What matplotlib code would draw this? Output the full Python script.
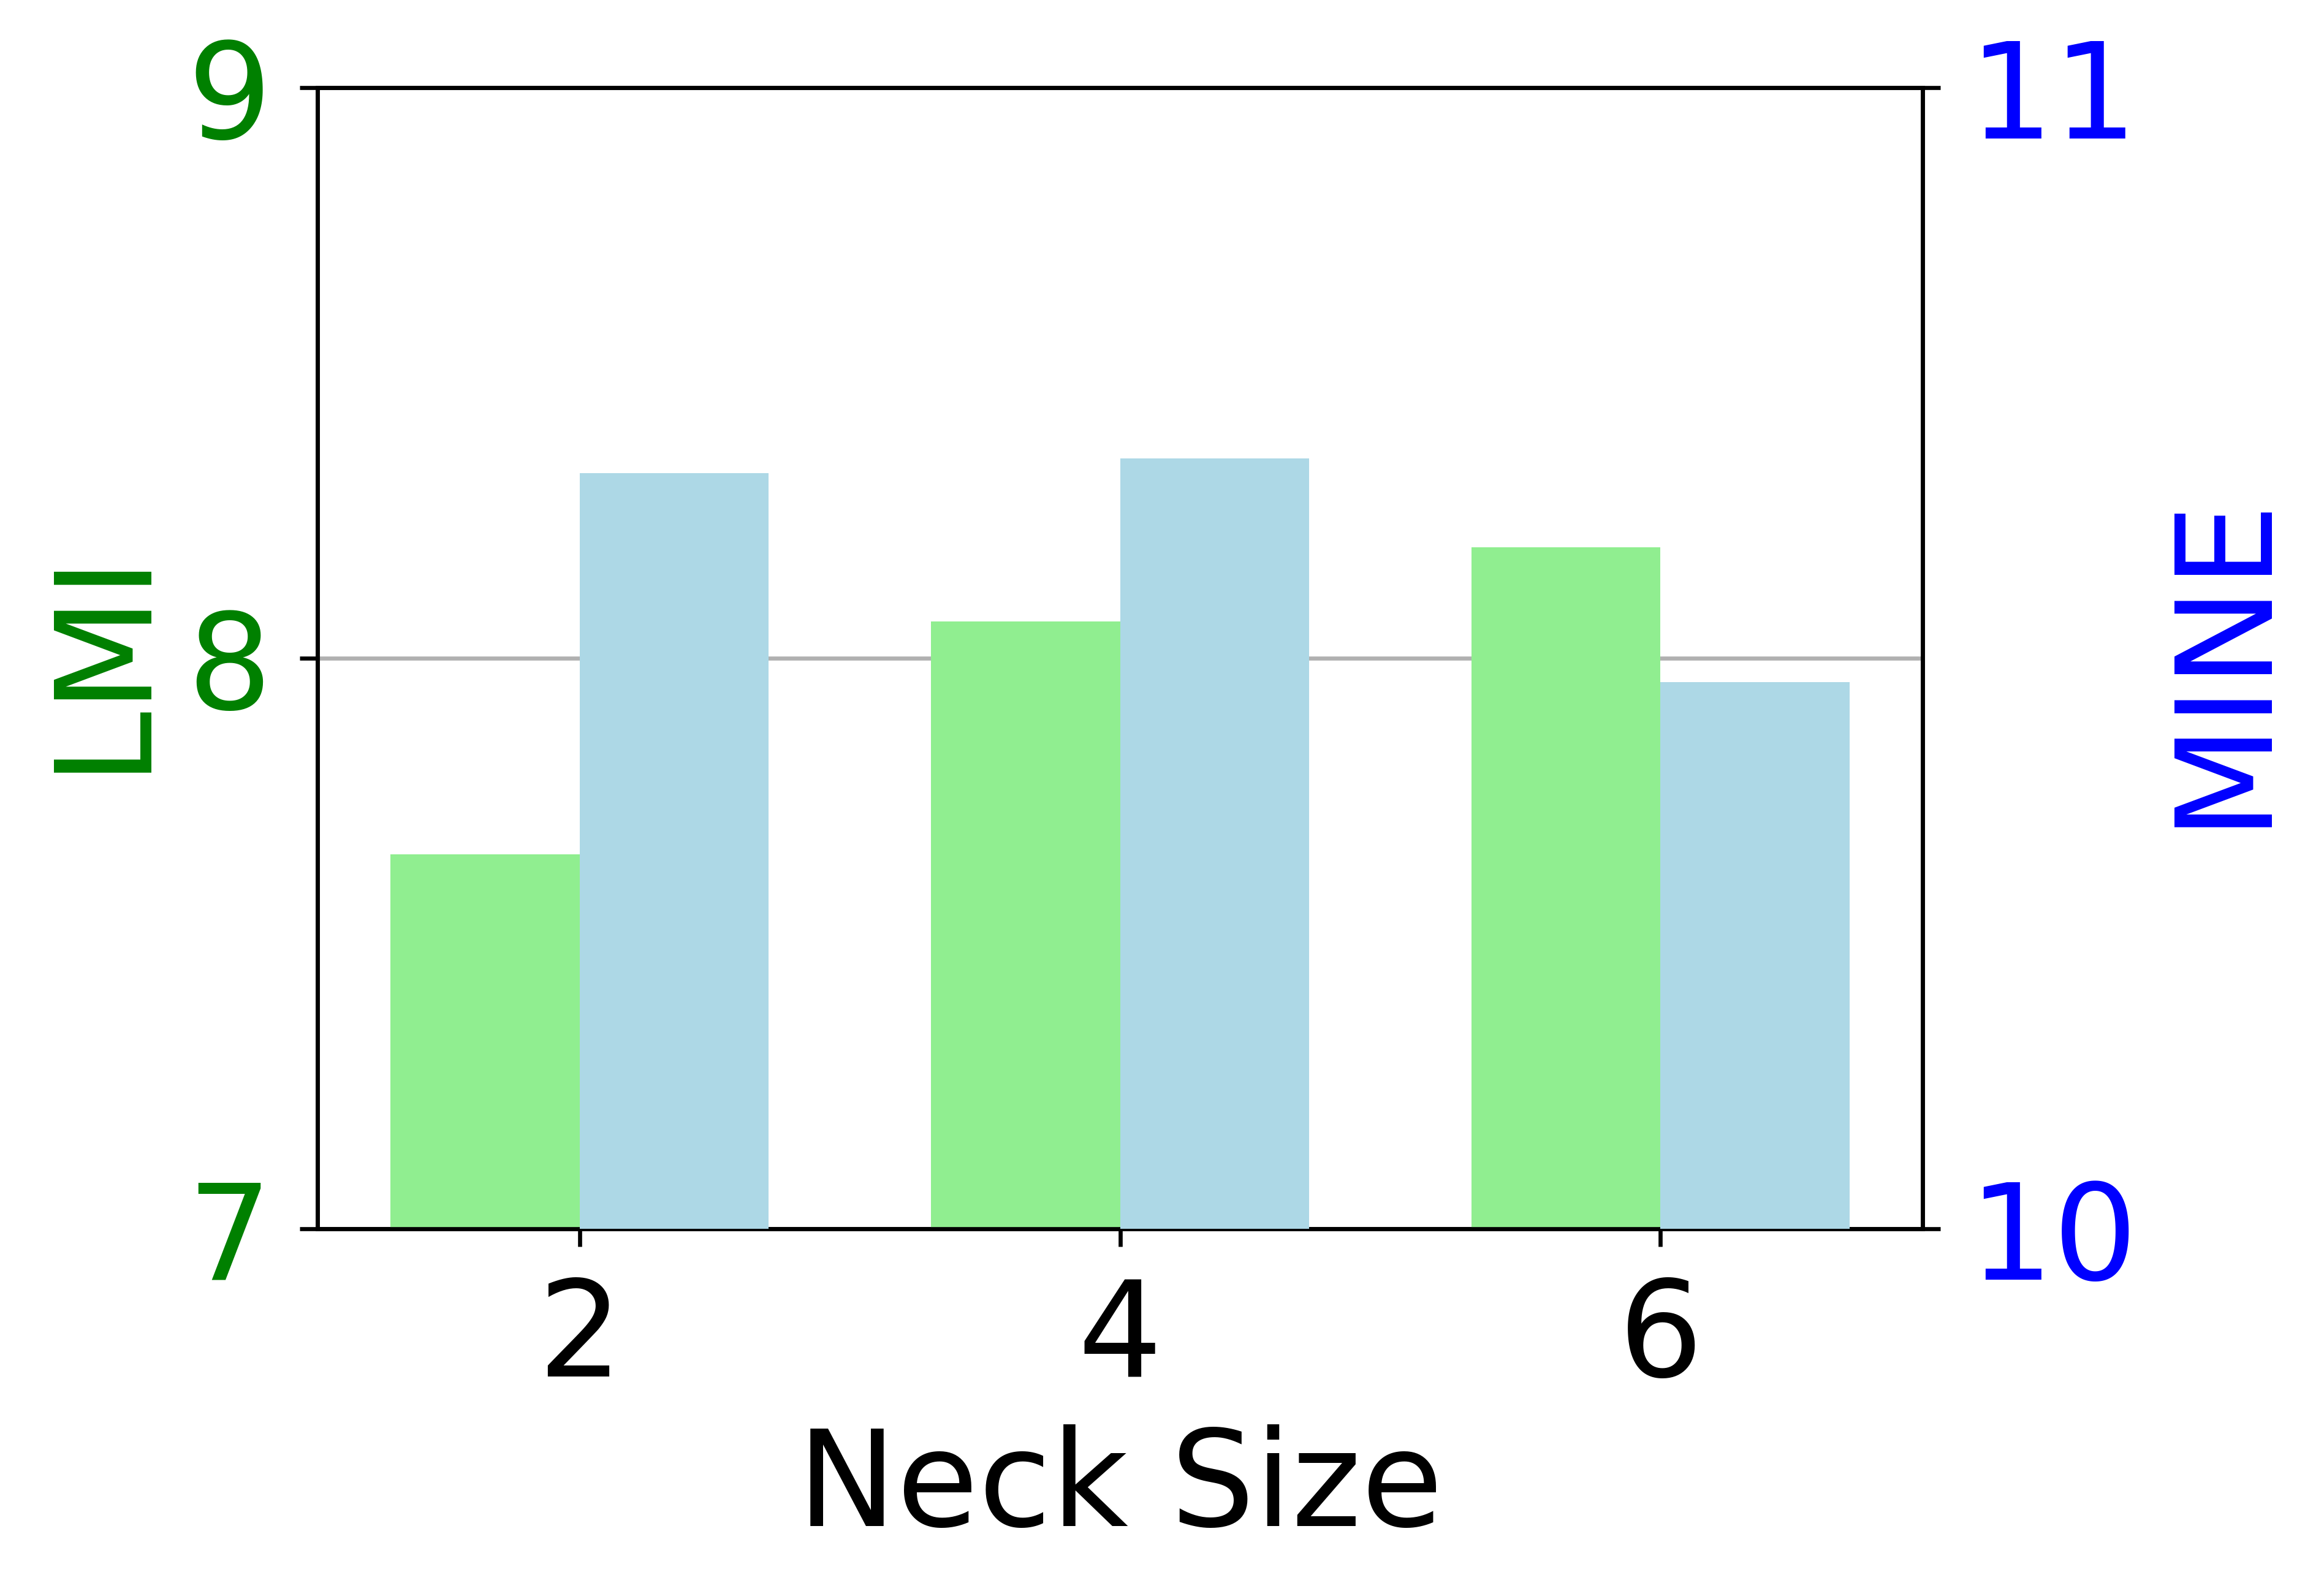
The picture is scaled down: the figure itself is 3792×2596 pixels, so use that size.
import matplotlib.pyplot as plt
import numpy as np

neck_sizes = ['2', '4', '6']
lmi_values = [7.656, 8.064, 8.194]
mine_values = [10.662, 10.675, 10.479]

BAR_W = 0.35
FS = 26
PAD = 5.5


def main():
    x = np.arange(len(neck_sizes))

    fig, ax1 = plt.subplots(figsize=(6.32, 4.3267))
    fig.subplots_adjust(left=518 / 3792, right=3137 / 3792,
                        bottom=1 - 2005 / 2596, top=1 - 143 / 2596)

    ax1.bar(x - BAR_W / 2, lmi_values, BAR_W, color='lightgreen', zorder=3)
    ax1.set_ylim(7, 9)
    ax1.set_yticks([7, 8, 9])
    ax1.set_ylabel('LMI', color='green', fontsize=FS)
    ax1.tick_params(axis='y', labelcolor='green', labelsize=FS, pad=PAD)
    ax1.tick_params(axis='x', pad=PAD)
    ax1.set_xticks(x)
    ax1.set_xticklabels(neck_sizes, fontsize=FS)
    ax1.set_xlabel('Neck Size', fontsize=FS)
    ax1.grid(axis='y', color='#b0b0b0')

    ax2 = ax1.twinx()
    ax2.bar(x + BAR_W / 2, mine_values, BAR_W, color='lightblue', zorder=3)
    ax2.set_ylim(10, 11)
    ax2.set_yticks([10, 11])
    ax2.set_ylabel('MINE', color='blue', fontsize=FS)
    ax2.tick_params(axis='y', labelcolor='blue', labelsize=FS, pad=PAD)

    plt.savefig('out.png', dpi=600)


if __name__ == '__main__':
    main()
